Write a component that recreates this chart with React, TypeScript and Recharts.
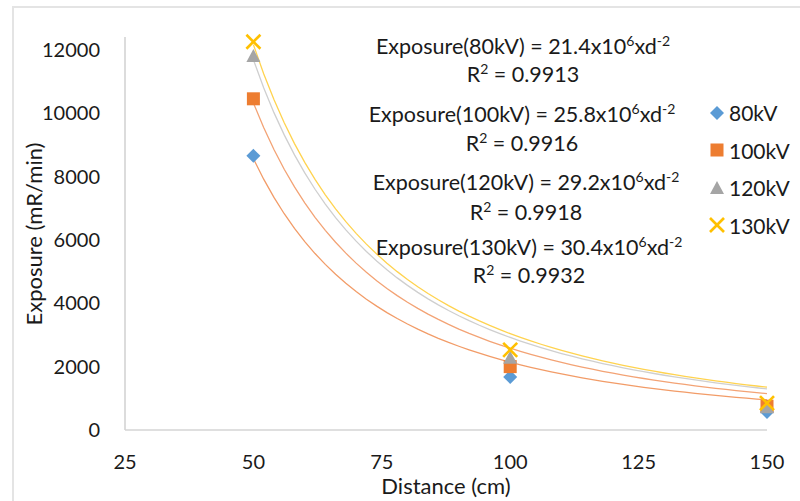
import React from 'react';
import { ScatterChart, Scatter, XAxis, YAxis } from 'recharts';

const distances = [50, 100, 150];
const exposure80 = [8650, 1670, 570];
const exposure100 = [10450, 2000, 750];
const exposure120 = [11800, 2280, 720];
const exposure130 = [12250, 2530, 850];
const seriesNames = ['80kV', '100kV', '120kV', '130kV'];
const fitCoefs = [21.4, 25.8, 29.2, 30.4];
const r2Values = ['0.9913', '0.9916', '0.9918', '0.9932'];
const xTicks = [25, 50, 75, 100, 125, 150];
const yTicks = [0, 2000, 4000, 6000, 8000, 10000, 12000];

const FONT = 'Lato, "Open Sans", sans-serif';
const TEXT = '#1a1a1a';

const markerColors = ['#5B9BD5', '#ED7D31', '#A5A5A5', '#FFC000'];
const trendColors = ['#F29C68', '#F3A375', '#CFCFCF', '#FFD34F'];

const toPoints = (vals: number[]) => distances.map((d, i) => ({ x: d, y: vals[i] }));
const trendPoints = (c: number) => {
  const pts: { x: number; y: number }[] = [];
  for (let d = 50; d <= 150; d += 2) pts.push({ x: d, y: (c * 1e6) / (d * d) });
  return pts;
};

const allSeries = [exposure80, exposure100, exposure120, exposure130];

function Marker({ kind, cx, cy }: { kind: number; cx: number; cy: number }) {
  const c = markerColors[kind];
  if (kind === 0)
    return <polygon points={`${cx},${cy - 7} ${cx + 7},${cy} ${cx},${cy + 7} ${cx - 7},${cy}`} fill={c} />;
  if (kind === 1) return <rect x={cx - 6.5} y={cy - 6.5} width={13} height={13} fill={c} />;
  if (kind === 2)
    return <polygon points={`${cx},${cy - 7} ${cx + 7},${cy + 6} ${cx - 7},${cy + 6}`} fill={c} />;
  return (
    <g stroke={c} strokeWidth={2.6}>
      <line x1={cx - 7} y1={cy - 7} x2={cx + 7} y2={cy + 7} />
      <line x1={cx - 7} y1={cy + 7} x2={cx + 7} y2={cy - 7} />
    </g>
  );
}

const eqRows = [
  { x: 523, y: 46, ry: 74 },
  { x: 522, y: 114, ry: 143 },
  { x: 526, y: 182, ry: 212 },
  { x: 529, y: 247, ry: 275 },
];

function LegendBox() {
  return (
    <div style={{ position: 'absolute', left: 708, top: 94, width: 92, fontFamily: FONT, fontSize: 21, color: TEXT }}>
      {seriesNames.map((n, i) => (
        <div key={n} style={{ height: 37.5, display: 'flex', alignItems: 'center' }}>
          <svg width={18} height={18} style={{ marginRight: 3 }}>
            <Marker kind={i} cx={9} cy={9} />
          </svg>
          <span>{n}</span>
        </div>
      ))}
    </div>
  );
}

export default function App() {
  return (
    <div style={{ position: 'absolute', left: 0, top: 0, width: 800, height: 501, background: '#fff', overflow: 'hidden' }}>
      <div style={{ position: 'absolute', left: 12, top: 6, width: 800, height: 520, borderLeft: '2px solid #E4E4E4', borderTop: '2px solid #E4E4E4' }} />
      <ScatterChart width={800} height={501} margin={{ top: 37, right: 33, bottom: 0, left: 0 }} style={{ position: 'absolute', left: 0, top: 0 }}>
        <XAxis
          type="number"
          dataKey="x"
          domain={[25, 150]}
          ticks={xTicks}
          height={71}
          tickLine={false}
          tickSize={0}
          tickMargin={25}
          axisLine={{ stroke: '#D4D4D4', strokeWidth: 1.6 }}
          tick={{ fill: TEXT, fontSize: 20, fontFamily: FONT }}
          label={{
            content: () => (
              <text x={446} y={494} textAnchor="middle" fontFamily={FONT} fontSize={22} fill={TEXT}>
                Distance (cm)
              </text>
            ),
          }}
        />
        <YAxis
          type="number"
          dataKey="y"
          domain={[0, 12400]}
          ticks={yTicks}
          width={125}
          tickLine={false}
          tickSize={0}
          tickMargin={25}
          axisLine={{ stroke: '#D4D4D4', strokeWidth: 1.6 }}
          tick={{ fill: TEXT, fontSize: 20, fontFamily: FONT }}
          label={{
            content: () => (
              <text x={42} y={234} textAnchor="middle" fontFamily={FONT} fontSize={22} fill={TEXT} transform="rotate(-90 42 234)">
                Exposure (mR/min)
              </text>
            ),
          }}
        />
        {fitCoefs.map((c, i) => (
          <Scatter
            key={'t' + i}
            data={trendPoints(c)}
            line={{ stroke: trendColors[i], strokeWidth: 1.3 }}
            lineType="joint"
            shape={() => <g />}
            legendType="none"
            isAnimationActive={false}
          />
        ))}
        {allSeries.map((vals, i) => (
          <Scatter
            key={'s' + i}
            name={seriesNames[i]}
            data={toPoints(vals)}
            shape={(p: any) => <Marker kind={i} cx={p.cx} cy={p.cy} />}
            isAnimationActive={false}
          />
        ))}
      </ScatterChart>
      <LegendBox />
      <svg width={800} height={501} style={{ position: 'absolute', left: 0, top: 0, pointerEvents: 'none' }}>
        {eqRows.map((r, i) => (
          <g key={i} fontFamily={FONT} fontSize={21.5} fill={TEXT} textAnchor="middle">
            <text x={r.x} y={r.y + 7.5}>
              {`Exposure(${seriesNames[i]}) = ${fitCoefs[i].toFixed(1)}x10`}
              <tspan fontSize={14} dy={-8}>6</tspan>
              <tspan dy={8}>xd</tspan>
              <tspan fontSize={14} dy={-8}>-2</tspan>
            </text>
            <text x={r.x} y={r.ry + 7.5}>
              R<tspan fontSize={14} dy={-8}>2</tspan>
              <tspan dy={8}>{` = ${r2Values[i]}`}</tspan>
            </text>
          </g>
        ))}
      </svg>
    </div>
  );
}
